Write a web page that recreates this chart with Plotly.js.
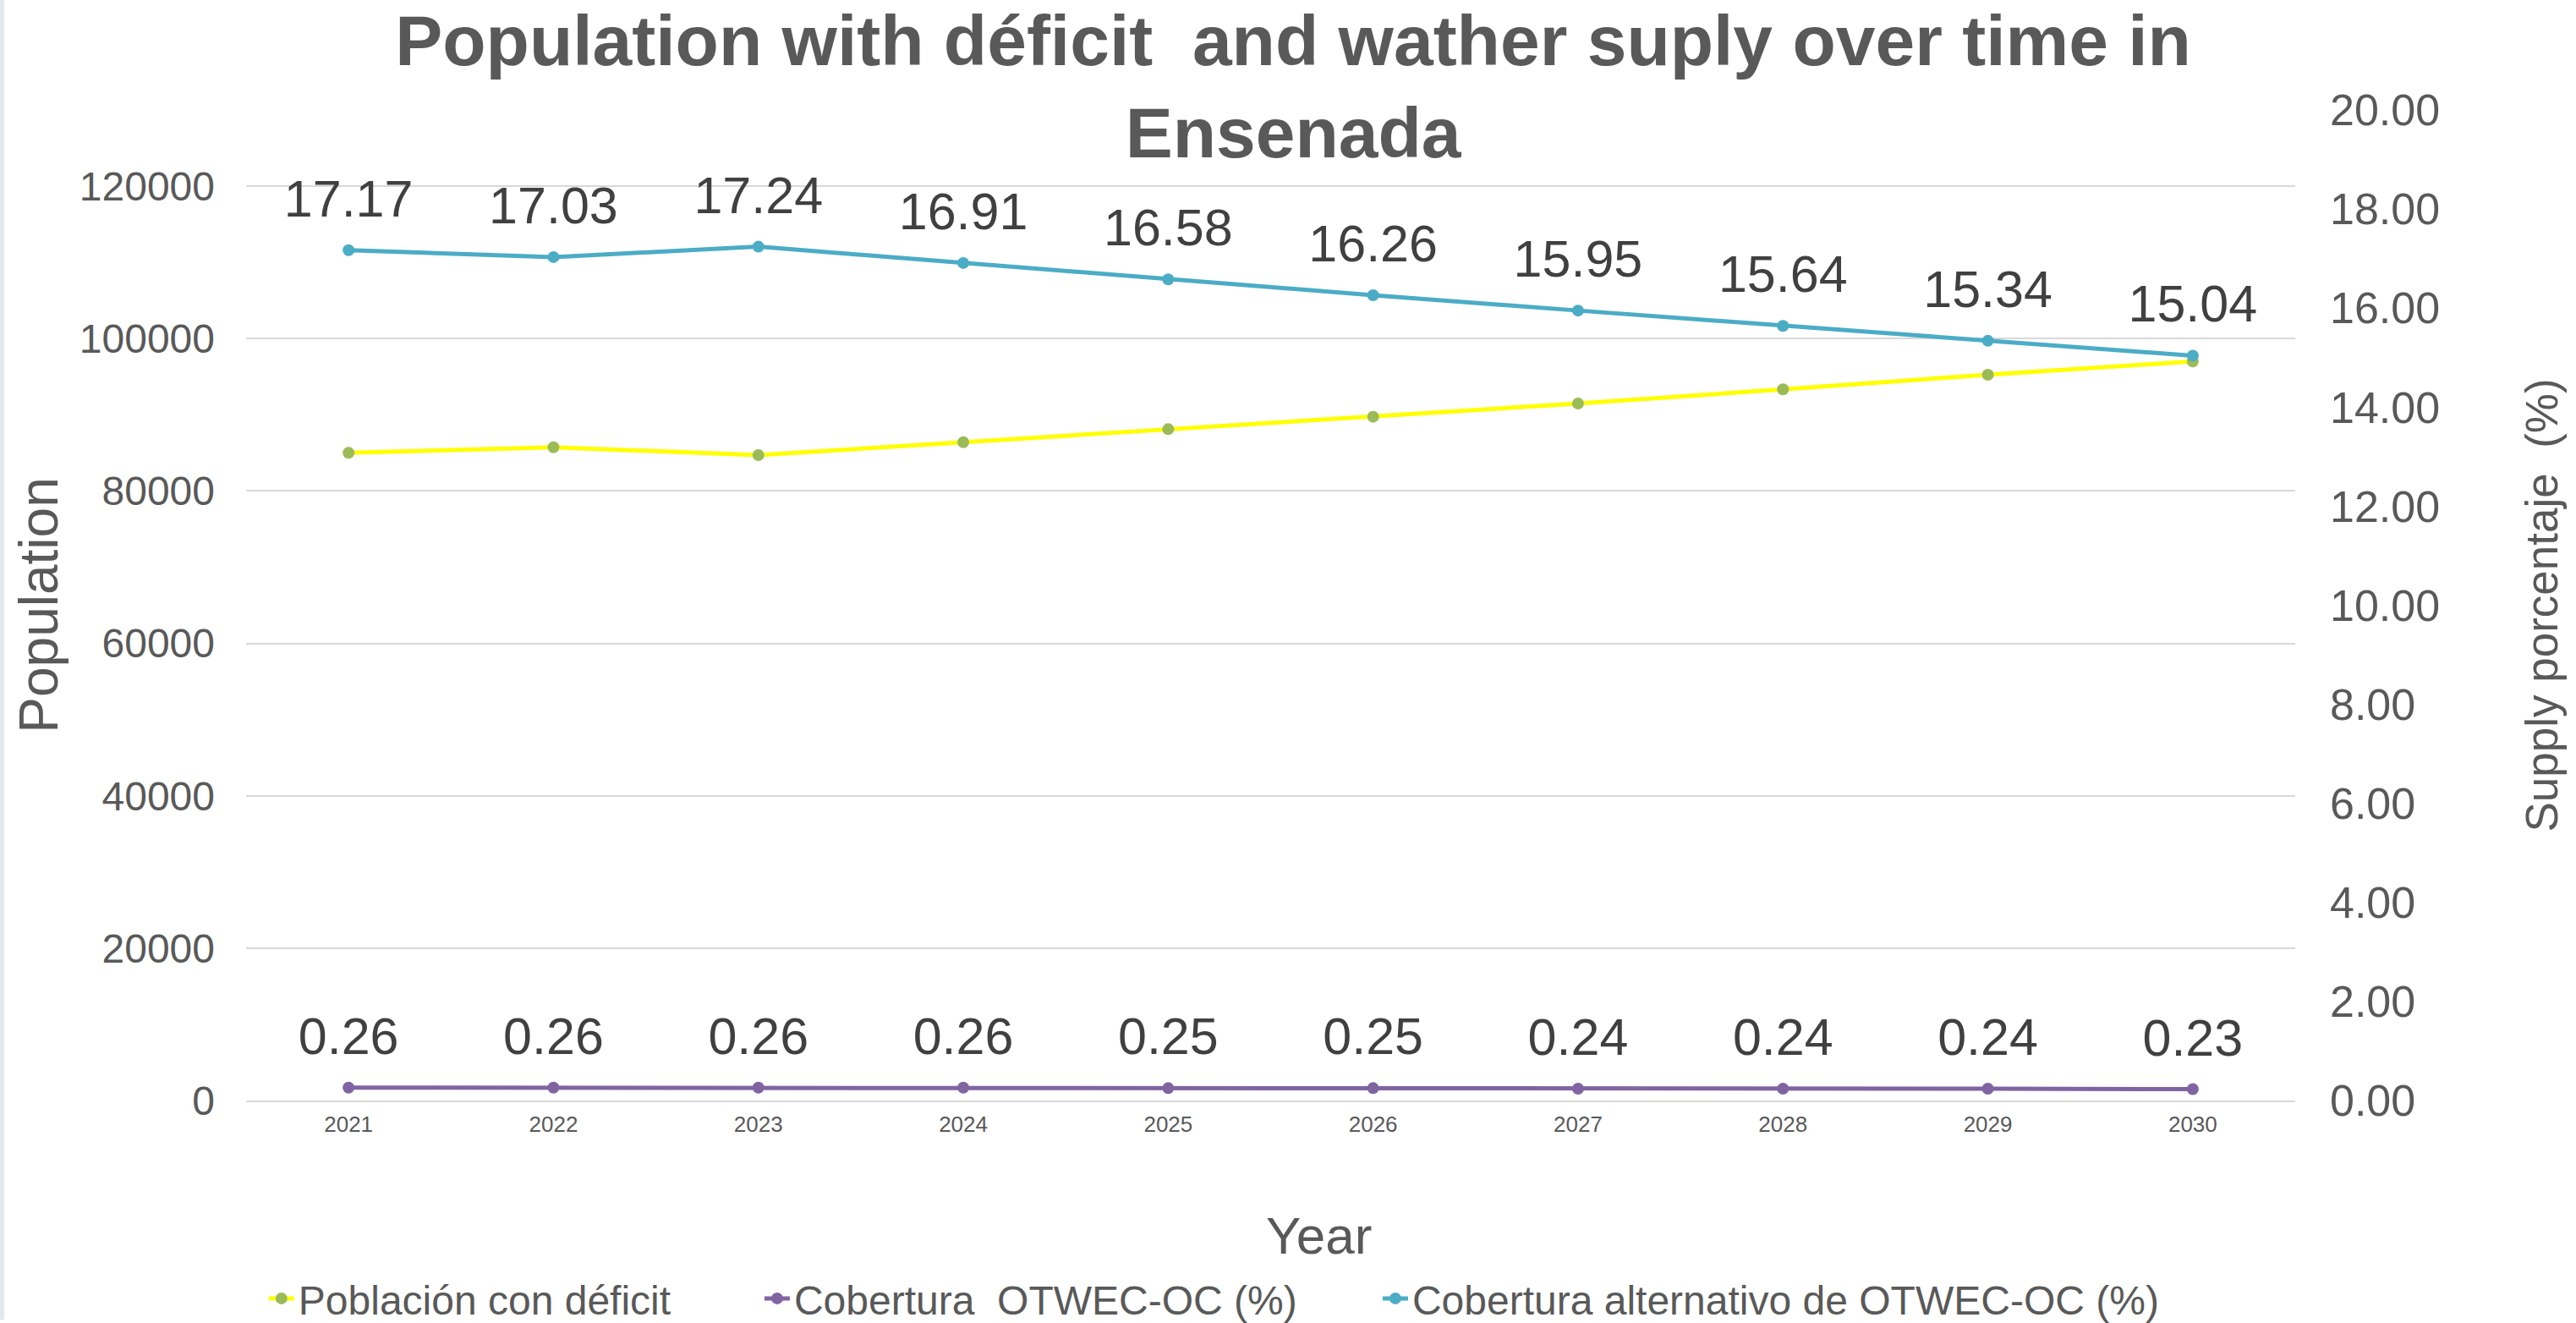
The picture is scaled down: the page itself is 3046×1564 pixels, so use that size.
<!DOCTYPE html>
<html>
<head>
<meta charset="utf-8">
<script src="https://cdn.plot.ly/plotly-3.0.1.min.js"></script>
<style>
  html, body { margin: 0; padding: 0; background: #ffffff; }
  #chart { width: 3046px; height: 1564px; }
</style>
</head>
<body>
<div id="chart"></div>
<script>
// Years on the category axis
const years = ['2021', '2022', '2023', '2024', '2025', '2026', '2027', '2028', '2029', '2030'];

// Population with water deficit (left axis)
const poblacionDeficit = [85000, 85740, 84700, 86400, 88110, 89740, 91480, 93330, 95260, 97000];

// Coverage OTWEC-OC, percent (right axis)
const coberturaOTWEC = [0.26, 0.26, 0.26, 0.26, 0.25, 0.25, 0.24, 0.24, 0.24, 0.23];

// Alternative coverage of OTWEC-OC, percent (right axis)
const coberturaAlternativo = [17.17, 17.03, 17.24, 16.91, 16.58, 16.26, 15.95, 15.64, 15.34, 15.04];

const FONT = 'Liberation Sans, Arial, sans-serif';
const GREY = '#595959';
const LABEL = '#404040';
const pct = v => v.toFixed(2);

// value labels sit a little above each point; a wider invisible marker sets that gap
function valueLabels(values) {
  return {
    x: years, y: values,
    type: 'scatter', mode: 'markers+text',
    text: values.map(pct),
    textposition: 'top center',
    textfont: { family: FONT, size: 61, color: LABEL },
    marker: { size: 38, opacity: 0 },
    cliponaxis: false,
    showlegend: false,
    hoverinfo: 'skip',
    yaxis: 'y2'
  };
}

const traces = [
  {
    name: 'Población con déficit',
    x: years, y: poblacionDeficit,
    type: 'scatter', mode: 'lines+markers',
    line: { color: '#FFFF00', width: 5 },
    marker: { color: '#9BBB59', size: 14 },
    yaxis: 'y',
    legend: 'legend'
  },
  {
    name: 'Cobertura\u00a0 OTWEC-OC (%)',
    x: years, y: coberturaOTWEC,
    type: 'scatter', mode: 'lines+markers',
    line: { color: '#8064A2', width: 5 },
    marker: { color: '#8064A2', size: 14 },
    yaxis: 'y2',
    legend: 'legend2'
  },
  {
    name: 'Cobertura alternativo de OTWEC-OC (%)',
    x: years, y: coberturaAlternativo,
    type: 'scatter', mode: 'lines+markers',
    line: { color: '#4BACC6', width: 5 },
    marker: { color: '#4BACC6', size: 14 },
    yaxis: 'y2',
    legend: 'legend3'
  },
  valueLabels(coberturaOTWEC),
  valueLabels(coberturaAlternativo)
];

function legendAt(x) {
  return {
    orientation: 'h',
    x: x, xanchor: 'left',
    y: -0.2, yanchor: 'middle',
    font: { family: FONT, size: 48, color: GREY },
    bgcolor: 'rgba(0,0,0,0)'
  };
}

const layout = {
  width: 3046,
  height: 1564,
  paper_bgcolor: '#ffffff',
  plot_bgcolor: '#ffffff',
  font: { family: FONT, color: GREY },
  margin: { l: 291, r: 332, t: 130, b: 263, autoexpand: false },
  title: {
    text: 'Population with déficit\u00a0 and wather suply over time in<br>Ensenada',
    font: { family: FONT, size: 84, color: GREY, weight: 'bold' },
    x: 0.502, xref: 'container', xanchor: 'center',
    y: 0.951, yref: 'container', yanchor: 'top'
  },
  xaxis: {
    type: 'category',
    range: [-0.5, 9.5],
    showgrid: false,
    showline: true, linecolor: '#D9D9D9', linewidth: 2,
    ticks: '',
    tickfont: { family: FONT, size: 26, color: GREY },
    ticklabelstandoff: 4,
    automargin: false
  },
  yaxis: {
    range: [0, 130000],
    dtick: 20000,
    tickformat: 'd',
    showgrid: true, gridcolor: '#D9D9D9', gridwidth: 2,
    zeroline: false,
    ticks: '',
    tickfont: { family: FONT, size: 48, color: GREY },
    ticklabelstandoff: 36,
    title: { text: 'Population', font: { family: FONT, size: 64, color: GREY }, standoff: 4 },
    automargin: false
  },
  yaxis2: {
    range: [0, 20],
    dtick: 2,
    tickformat: '.2f',
    overlaying: 'y',
    side: 'right',
    showgrid: false,
    zeroline: false,
    ticks: '',
    tickfont: { family: FONT, size: 52, color: GREY },
    ticklabelstandoff: 40,
    title: { text: 'Supply porcentaje\u00a0 (%)', font: { family: FONT, size: 53, color: GREY }, standoff: 102 },
    automargin: false
  },
  // x-axis title, set slightly right of the plot centre
  annotations: [
    {
      text: 'Year',
      xref: 'paper', yref: 'paper',
      x: 0.5237, y: -0.1366,
      xanchor: 'center', yanchor: 'middle',
      showarrow: false,
      font: { family: FONT, size: 62, color: GREY }
    }
  ],
  legend: legendAt(0.009),
  legend2: legendAt(0.2509),
  legend3: legendAt(0.5526),
  shapes: [
    {
      type: 'rect', xref: 'paper', yref: 'paper',
      x0: -0.1201, x1: -0.1180, y0: -0.2212, y1: 1.1144,
      fillcolor: '#E1E8EE', line: { width: 0 }, layer: 'below'
    }
  ],
  showlegend: true
};

Plotly.newPlot('chart', traces, layout, { displayModeBar: false, staticPlot: true });
</script>
</body>
</html>
